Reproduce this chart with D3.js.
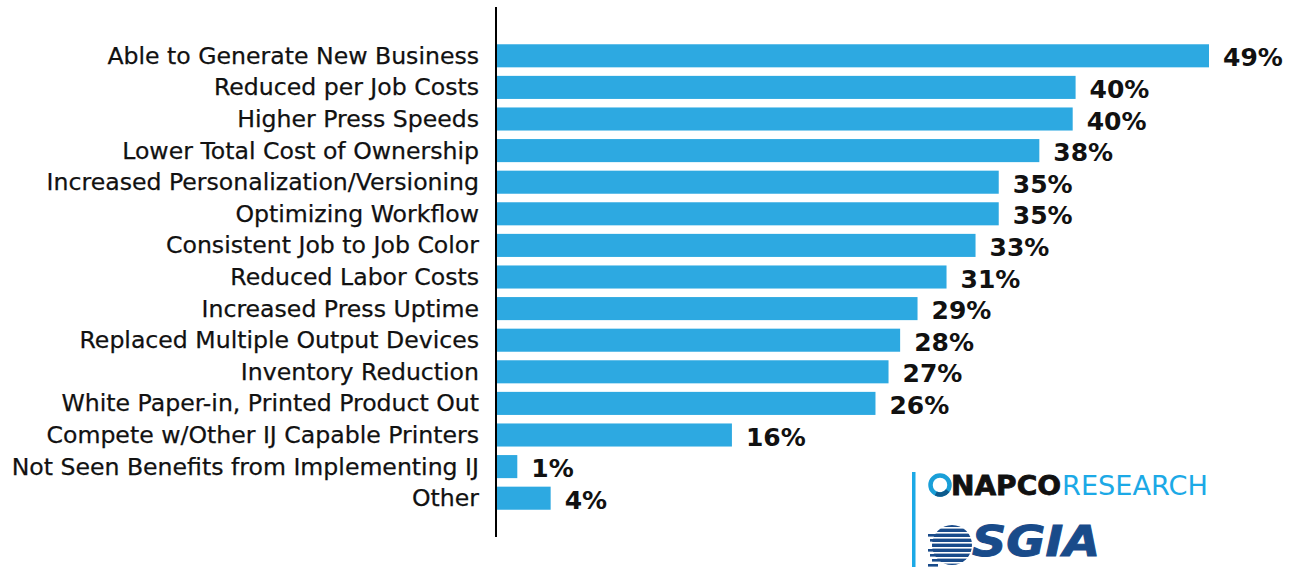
<!DOCTYPE html>
<html>
<head>
<meta charset="utf-8">
<script src="https://cdn.jsdelivr.net/npm/d3@7"></script>
<style>
  html, body { margin: 0; padding: 0; background: #fff; }
  svg { display: block; }
</style>
</head>
<body>
<svg id="chart" width="1301" height="567"></svg>
<script>
// ---- data ----
const categories = [
  "Able to Generate New Business",
  "Reduced per Job Costs",
  "Higher Press Speeds",
  "Lower Total Cost of Ownership",
  "Increased Personalization/Versioning",
  "Optimizing Workflow",
  "Consistent Job to Job Color",
  "Reduced Labor Costs",
  "Increased Press Uptime",
  "Replaced Multiple Output Devices",
  "Inventory Reduction",
  "White Paper-in, Printed Product Out",
  "Compete w/Other IJ Capable Printers",
  "Not Seen Benefits from Implementing IJ",
  "Other"
];
const values = [49.1, 39.9, 39.7, 37.4, 34.6, 34.6, 33.0, 31.0, 29.0, 27.8, 27.0, 26.1, 16.2, 1.4, 3.7];
const valueLabels = ["49%", "40%", "40%", "38%", "35%", "35%", "33%", "31%", "29%", "28%", "27%", "26%", "16%", "1%", "4%"];

// ---- layout ----
const svg = d3.select("#chart");
const x0 = 497;
const x = d3.scaleLinear().domain([0, 49.1]).range([x0, 1209]);
const y = d3.scaleBand().domain(categories).range([40, 514]).paddingInner(0.27).paddingOuter(0.135);

const barColor = "#2DA9E1";

// bars
svg.append("g").selectAll("rect")
  .data(categories)
  .join("rect")
  .attr("x", x(0))
  .attr("y", d => y(d))
  .attr("width", (d, i) => x(values[i]) - x(0))
  .attr("height", y.bandwidth())
  .attr("fill", barColor);

// value labels
svg.append("g").selectAll("text")
  .data(categories)
  .join("text")
  .attr("x", (d, i) => x(values[i]) + 14)
  .attr("y", d => y(d) + y.bandwidth() / 2 + 10.5)
  .attr("font-family", "DejaVu Sans")
  .attr("font-weight", "bold")
  .attr("font-size", 25)
  .attr("fill", "#111")
  .text((d, i) => valueLabels[i]);

// category axis (labels on left)
const axis = d3.axisLeft(y).tickSize(0).tickPadding(18);
const ag = svg.append("g").attr("transform", `translate(${x0},0)`).call(axis);
ag.select(".domain").remove();
ag.selectAll("text")
  .attr("font-family", "DejaVu Sans")
  .attr("font-size", 23.6)
  .attr("fill", "#111")
  .attr("stroke", "#111")
  .attr("stroke-width", 0.25)
  .attr("dy", null)
  .attr("y", 8);

// vertical axis line
svg.append("line")
  .attr("x1", 496).attr("x2", 496)
  .attr("y1", 7).attr("y2", 537)
  .attr("stroke", "#000").attr("stroke-width", 2);

// ---- logos ----
const logo = svg.append("g");
logo.append("rect").attr("x", 912).attr("y", 472).attr("width", 3.5).attr("height", 95).attr("fill", "#1CA9E6");

// NAPCO ring
logo.append("circle").attr("cx", 940).attr("cy", 485).attr("r", 9.5)
  .attr("fill", "none").attr("stroke", "#1a9fd8").attr("stroke-width", 4.5);
logo.append("path")
  .attr("d", d3.arc()({innerRadius: 7.3, outerRadius: 11.8, startAngle: 2.2, endAngle: 3.6}))
  .attr("transform", "translate(940,485)")
  .attr("fill", "#0d5a8c");
logo.append("text").attr("x", 951).attr("y", 495)
  .attr("font-family", "DejaVu Sans").attr("font-weight", "bold").attr("font-size", 26)
  .attr("textLength", 110).attr("lengthAdjust", "spacingAndGlyphs")
  .attr("fill", "#111").attr("stroke", "#111").attr("stroke-width", 0.8).text("NAPCO");
logo.append("text").attr("x", 1062).attr("y", 495)
  .attr("font-family", "DejaVu Sans").attr("font-size", 26)
  .attr("textLength", 146).attr("lengthAdjust", "spacingAndGlyphs")
  .attr("fill", "#1CA9E6").text("RESEARCH");

// SGIA globe
const sgiaBlue = "#194B8A";
logo.append("circle").attr("cx", 952).attr("cy", 545).attr("r", 20).attr("fill", sgiaBlue);
const stripes = d3.range(524, 567, 5);
logo.append("g").selectAll("rect").data(stripes).join("rect")
  .attr("x", 926).attr("y", d => d + 3).attr("width", 50).attr("height", 1.6).attr("fill", "#fff");
logo.append("g").selectAll("rect").data(stripes.slice(2)).join("rect")
  .attr("x", (d, i) => 928 + (i % 3) * 2).attr("y", d => d).attr("width", (d, i) => 10 + (i % 2) * 6).attr("height", 2.6).attr("fill", sgiaBlue);
logo.append("text").attr("x", 972).attr("y", 556)
  .attr("font-family", "DejaVu Sans").attr("font-weight", "bold").attr("font-style", "italic").attr("font-size", 42)
  .attr("textLength", 128).attr("lengthAdjust", "spacingAndGlyphs")
  .attr("fill", sgiaBlue).attr("stroke", sgiaBlue).attr("stroke-width", 1).text("SGIA");
</script>
</body>
</html>
